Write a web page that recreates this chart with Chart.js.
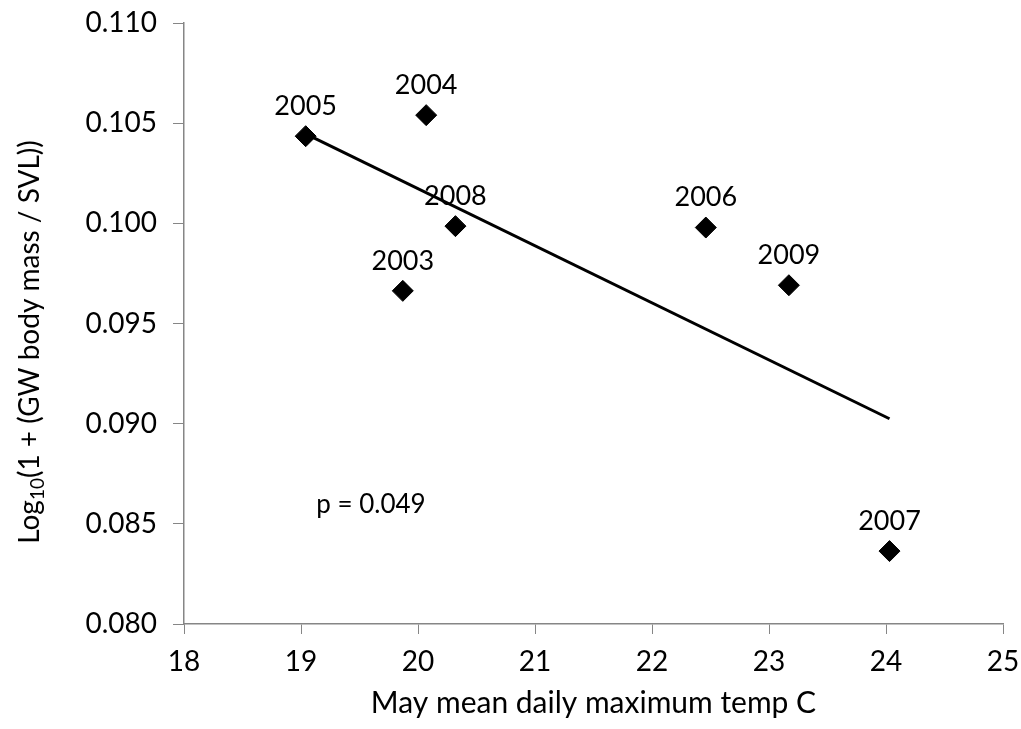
<!DOCTYPE html>
<html>
<head>
<meta charset="utf-8">
<script src="https://cdn.jsdelivr.net/npm/chart.js@4.4.0/dist/chart.umd.min.js"></script>
<style>
  html, body { margin: 0; padding: 0; background: #fff; }
  #wrap { width: 1021px; height: 729px; position: relative; }
</style>
</head>
<body>
<div id="wrap"><canvas id="c"></canvas></div>
<script>
// season data: year, May mean daily max temp, log10(1 + mass/SVL)
const years = ['2005', '2004', '2008', '2003', '2006', '2009', '2007'];
const tempC = [19.04, 20.07, 20.32, 19.87, 22.46, 23.17, 24.03];
const bodyIndex = [0.10435, 0.10540, 0.09986, 0.09663, 0.09979, 0.09691, 0.08364];
const pValueText = 'p = 0.049';

const FONT = 'Lato, Carlito, Calibri, sans-serif';
const AXIS_GREY = '#868686';

const points = tempC.map((x, i) => ({ x, y: bodyIndex[i] }));

// least squares fit, drawn across the range of the data
const n = tempC.length;
const mx = tempC.reduce((a, b) => a + b, 0) / n;
const my = bodyIndex.reduce((a, b) => a + b, 0) / n;
let sxy = 0, sxx = 0;
tempC.forEach((x, i) => { sxy += (x - mx) * (bodyIndex[i] - my); sxx += (x - mx) * (x - mx); });
const slope = sxy / sxx, icept = my - slope * mx;
const xMin = Math.min(...tempC), xMax = Math.max(...tempC);
const fitLine = [{ x: xMin, y: icept + slope * xMin }, { x: xMax, y: icept + slope * xMax }];

// year labels above each diamond, y-axis title with subscript, p value note
const extras = {
  id: 'extras',
  afterDatasetsDraw(chart) {
    const ctx = chart.ctx;
    const meta = chart.getDatasetMeta(1);
    ctx.save();
    ctx.fillStyle = '#000';
    ctx.font = '27px ' + FONT;
    ctx.textAlign = 'center';
    ctx.textBaseline = 'middle';
    meta.data.forEach((el, i) => ctx.fillText(years[i], el.x, el.y - 30));

    const xs = chart.scales.x, ys = chart.scales.y;
    ctx.font = '26px ' + FONT;
    ctx.textAlign = 'left';
    ctx.fillText(pValueText, xs.getPixelForValue(19.13), ys.getPixelForValue(0.08594));
    ctx.restore();
  },
  afterDraw(chart) {
    const ctx = chart.ctx;
    const parts = [
      { t: 'Log', size: 28, dy: 0 },
      { t: '10', size: 19, dy: 8 },
      { t: '(1 + (GW body mass / SVL))', size: 28, dy: 0 }
    ];
    ctx.save();
    ctx.fillStyle = '#000';
    ctx.textBaseline = 'middle';
    let total = 0;
    parts.forEach(p => { ctx.font = p.size + 'px ' + FONT; p.w = ctx.measureText(p.t).width; total += p.w; });
    ctx.translate(30, 342);
    ctx.rotate(-Math.PI / 2);
    let x = -total / 2;
    parts.forEach(p => {
      ctx.font = p.size + 'px ' + FONT;
      ctx.fillText(p.t, x, p.dy);
      x += p.w;
    });
    ctx.restore();
  }
};

new Chart(document.getElementById('c'), {
  type: 'scatter',
  data: {
    datasets: [
      {
        type: 'line', data: fitLine, borderColor: '#000', borderWidth: 3,
        pointRadius: 0, fill: false, tension: 0, order: 2
      },
      {
        data: points, pointStyle: 'rectRot', pointRadius: 10.5,
        backgroundColor: '#000', borderColor: '#000', borderWidth: 1, order: 1
      }
    ]
  },
  options: {
    responsive: true, maintainAspectRatio: false, animation: false,
    layout: { padding: { top: 23, right: 18, left: 0, bottom: 0 } },
    plugins: { legend: { display: false }, tooltip: { enabled: false } },
    scales: {
      x: {
        type: 'linear', min: 18, max: 25,
        afterFit: s => { s.height = 105; s.paddingLeft = 0; s.paddingRight = 0; },
        ticks: { stepSize: 1, color: '#000', padding: 11, font: { family: FONT, size: 28 } },
        grid: { drawOnChartArea: false, drawTicks: true, tickLength: 10, color: AXIS_GREY },
        border: { color: AXIS_GREY, width: 1.5 },
        title: { display: true, text: 'May mean daily maximum temp C', color: '#000',
                 font: { family: FONT, size: 30 }, padding: { top: 0, bottom: 8 } }
      },
      y: {
        min: 0.08, max: 0.11,
        afterFit: s => { s.width = 184; s.paddingTop = 0; s.paddingBottom = 0; },
        ticks: { stepSize: 0.005, color: '#000', padding: 16, font: { family: FONT, size: 28 },
                 callback: v => v.toFixed(3) },
        grid: { drawOnChartArea: false, drawTicks: true, tickLength: 11, color: AXIS_GREY },
        border: { color: AXIS_GREY, width: 1.5 }
      }
    }
  },
  plugins: [extras]
});
</script>
</body>
</html>
